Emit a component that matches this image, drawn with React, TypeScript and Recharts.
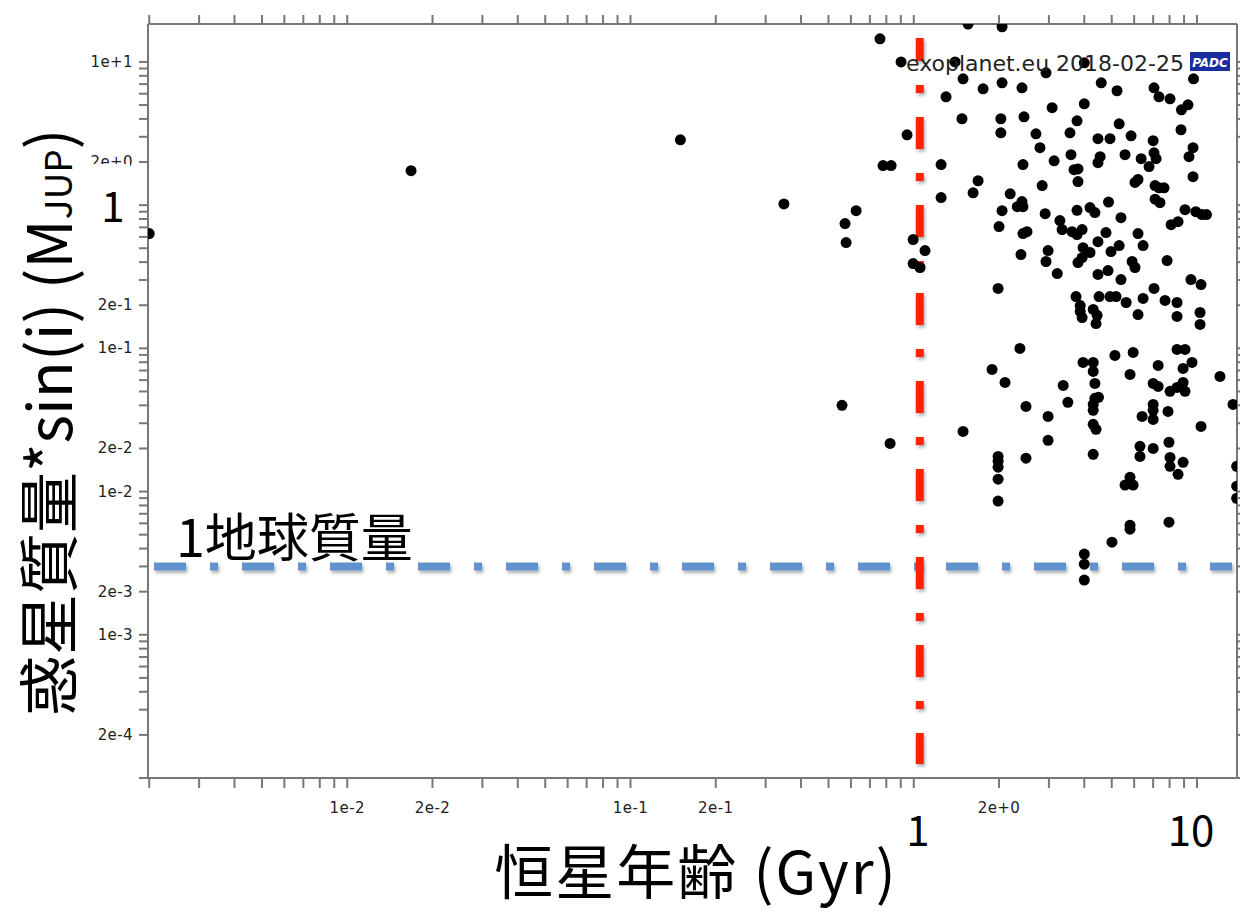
import React from 'react';
import { ScatterChart, Scatter, XAxis, YAxis, ReferenceLine } from 'recharts';

// Star age (Gyr) and planet mass*sin(i) (M_JUP)
const ages = [
  0.002, 0.0168, 0.15, 0.348, 0.558, 0.572, 0.577, 0.626, 0.76, 0.779,
  0.832, 0.825, 0.902, 0.947, 0.995, 1.096, 0.995, 1.052, 1.249, 1.249,
  1.3, 1.399, 1.493, 1.48, 1.555, 2.05, 1.757, 2.05, 2.03, 2.03,
  2.41, 2.93, 2.45, 2.7, 2.79, 3.08, 2.43, 1.687, 2.84, 1.62,
  2.19, 2.41, 2.32, 2.43, 2.05, 2.91, 2.0, 2.43, 2.51, 2.39,
  2.98, 2.93, 1.985, 2.37, 1.89, 2.1, 1.493, 2.49, 2.98, 2.98,
  2.49, 1.985, 1.985, 1.985, 1.985, 1.985, 3.37, 3.5, 3.96, 4.3,
  4.3, 4.36, 4.49, 4.36, 4.3, 4.3, 4.3, 4.4, 4.3, 5.13,
  5.95, 5.8, 6.4, 7.29, 7.0, 7.29, 7.0, 7.0, 7.0, 7.9,
  6.29, 6.29, 7.0, 7.96, 8.03, 8.03, 8.93, 8.57, 5.57, 5.8,
  5.95, 5.8, 5.8, 7.96, 5.01, 4.0, 4.0, 4.0, 8.5, 9.07,
  9.6, 8.93, 12.05, 8.03, 8.5, 8.93, 9.07, 10.33, 13.4, 13.8,
  13.8, 13.8, 3.21, 3.28, 3.34, 3.62, 3.77, 3.93, 3.77, 4.19,
  4.36, 4.87, 5.39, 7.11, 7.4, 9.07, 9.9, 10.4, 10.8, 8.1,
  8.57, 4.77, 6.19, 4.47, 6.45, 5.31, 4.97, 3.96, 4.19, 3.93,
  3.8, 7.84, 5.9, 6.04, 4.47, 4.85, 5.39, 9.52, 10.33, 7.05,
  3.74, 4.51, 4.93, 5.18, 5.62, 6.45, 7.71, 8.5, 3.87, 3.87,
  3.93, 4.3, 4.44, 4.4, 6.19, 8.5, 10.25, 10.25, 4.0, 9.72,
  4.59, 5.22, 7.05, 7.34, 8.03, 8.81, 9.29, 4.0, 3.77, 5.31,
  3.56, 4.47, 4.93, 5.85, 8.78, 7.0, 9.68, 3.59, 3.13, 4.55,
  4.47, 5.57, 6.35, 7.05, 7.17, 6.77, 9.37, 3.68, 3.8, 3.8,
  9.68, 6.04, 6.19, 7.11, 7.34, 7.65,
];
const masses = [
  0.633, 1.74, 2.86, 1.02, 0.04, 0.743, 0.548, 0.915, 14.5, 1.89,
  1.89, 0.0217, 10.0, 3.1, 0.575, 0.482, 0.391, 0.367, 1.92, 1.13,
  5.71, 10.0, 7.62, 4.01, 18.4, 17.6, 6.49, 7.15, 4.01, 3.2,
  6.6, 8.39, 4.14, 3.15, 2.52, 4.79, 1.92, 1.48, 1.37, 1.22,
  1.2, 1.06, 0.976, 0.976, 0.915, 0.872, 0.708, 0.633, 0.653, 0.452,
  0.482, 0.404, 0.262, 0.0998, 0.0713, 0.0578, 0.0263, 0.0393, 0.0335, 0.0228,
  0.0171, 0.0176, 0.0163, 0.0148, 0.0122, 0.00858, 0.0551, 0.042, 0.0797, 0.0797,
  0.069, 0.0569, 0.0455, 0.0448, 0.0406, 0.0369, 0.0295, 0.0272, 0.0182, 0.0892,
  0.0936, 0.0658, 0.0335, 0.076, 0.0569, 0.0542, 0.0406, 0.0369, 0.0319, 0.0363,
  0.0207, 0.0176, 0.02, 0.0221, 0.0173, 0.015, 0.016, 0.0132, 0.0111, 0.0126,
  0.0111, 0.00582, 0.00546, 0.00611, 0.00443, 0.00366, 0.00311, 0.00241, 0.0982, 0.0982,
  0.0797, 0.0724, 0.0637, 0.0501, 0.0534, 0.0578, 0.0501, 0.0285, 0.0406, 0.015,
  0.0109, 0.00898, 0.333, 0.78, 0.675, 0.653, 0.623, 0.675, 0.92, 0.961,
  0.887, 1.05, 0.818, 1.1, 1.04, 0.93, 0.9, 0.859, 0.859, 0.731,
  0.767, 0.643, 0.633, 0.556, 0.522, 0.522, 0.474, 0.505, 0.467, 0.43,
  0.397, 0.41, 0.404, 0.367, 0.328, 0.349, 0.302, 0.302, 0.279, 0.262,
  0.23, 0.23, 0.23, 0.23, 0.209, 0.223, 0.216, 0.209, 0.199, 0.181,
  0.164, 0.187, 0.17, 0.149, 0.172, 0.167, 0.178, 0.147, 9.86, 7.62,
  7.15, 6.29, 6.6, 5.71, 5.53, 4.63, 5.02, 5.1, 3.88, 3.7,
  3.2, 2.91, 2.91, 3.05, 3.36, 2.82, 2.52, 2.25, 2.04, 2.18,
  1.98, 2.25, 2.11, 2.32, 2.11, 1.86, 2.18, 1.77, 1.79, 1.46,
  1.58, 1.44, 1.51, 1.37, 1.32, 1.32,
];

const xTicks = [
  0.002, 0.003, 0.004, 0.005, 0.006, 0.007, 0.008, 0.009,
  0.01, 0.02, 0.03, 0.04, 0.05, 0.06, 0.07, 0.08, 0.09,
  0.1, 0.2, 0.3, 0.4, 0.5, 0.6, 0.7, 0.8, 0.9,
  1, 2, 3, 4, 5, 6, 7, 8, 9, 10,
];
const yTicks = [
  0.0001, 0.0002, 0.0003, 0.0004, 0.0005, 0.0006, 0.0007, 0.0008, 0.0009,
  0.001, 0.002, 0.003, 0.004, 0.005, 0.006, 0.007, 0.008, 0.009,
  0.01, 0.02, 0.03, 0.04, 0.05, 0.06, 0.07, 0.08, 0.09,
  0.1, 0.2, 0.3, 0.4, 0.5, 0.6, 0.7, 0.8, 0.9,
  1, 2, 3, 4, 5, 6, 7, 8, 9, 10,
];
const xTickLabels: Record<string, string> = {
  '0.01': '1e-2', '0.02': '2e-2', '0.1': '1e-1', '0.2': '2e-1', '2': '2e+0',
};
const yTickLabels: Record<string, string> = {
  '10': '1e+1', '2': '2e+0', '0.2': '2e-1', '0.1': '1e-1',
  '0.02': '2e-2', '0.01': '1e-2', '0.002': '2e-3', '0.001': '1e-3', '0.0002': '2e-4',
};

const xDomain = [0.00198, 13.84];
const yDomain = [0.0001, 18.4];

const earthMassJup = 0.003;
const earthLineAges = [0.00208, 13.3];
const sunAge = 1.05;
const sunLineMasses = [14.7, 0.000125];

const points = ages.map((a, i) => ({ age: a, mass: masses[i] }));

const AXIS = '#777';
const TICKFONT = 'DejaVu Sans, sans-serif';
const CJK = '"Noto Sans CJK JP", "Noto Sans", sans-serif';

const XTick = (props: any) => {
  const { x, payload } = props;
  const t = xTickLabels[String(payload.value)];
  if (!t) return <g />;
  return (
    <text x={x} y={813} textAnchor="middle" fontSize={15} letterSpacing={0.4}
      fontFamily={TICKFONT} fill="#222">{t}</text>
  );
};

const YTick = (props: any) => {
  const { y, payload } = props;
  const t = yTickLabels[String(payload.value)];
  if (!t) return <g />;
  return (
    <text x={133} y={y + 5} textAnchor="end" fontSize={15} letterSpacing={0.4}
      fontFamily={TICKFONT} fill="#222">{t}</text>
  );
};

const NoLabel = () => <g />;

const Dot = (p: any) => <circle cx={p.cx} cy={p.cy} r={5.5} fill="#000" />;

export default function App() {
  return (
    <div style={{ position: 'absolute', left: 0, top: 0, width: 1240, height: 912, background: '#fff' }}>
      <svg width={0} height={0} style={{ position: 'absolute' }}>
        <defs>
          <filter id="lineShadow" filterUnits="userSpaceOnUse" x={0} y={0} width={1240} height={912}>
            <feDropShadow dx={1.5} dy={2.5} stdDeviation={1.5} floodColor="#000" floodOpacity={0.3} />
          </filter>
        </defs>
      </svg>
      <ScatterChart width={1240} height={912} margin={{ top: 14, right: 0, bottom: 94, left: 88 }}>
        <XAxis xAxisId="bottom" type="number" dataKey="age" scale="log" domain={xDomain}
          allowDataOverflow ticks={xTicks} interval={0} height={40} tickSize={10}
          axisLine={{ stroke: AXIS, strokeWidth: 2 }} tickLine={{ stroke: AXIS, strokeWidth: 2 }}
          tick={<XTick />} />
        <XAxis xAxisId="top" orientation="top" type="number" dataKey="age" scale="log" domain={xDomain}
          allowDataOverflow ticks={xTicks} interval={0} height={10} tickSize={9}
          axisLine={{ stroke: AXIS, strokeWidth: 2 }} tickLine={{ stroke: AXIS, strokeWidth: 2 }}
          tick={<NoLabel />} />
        <YAxis yAxisId="left" type="number" dataKey="mass" scale="log" domain={yDomain}
          allowDataOverflow ticks={yTicks} interval={0} width={60} tickSize={9}
          axisLine={{ stroke: AXIS, strokeWidth: 2 }} tickLine={{ stroke: AXIS, strokeWidth: 2 }}
          tick={<YTick />} />
        <YAxis yAxisId="right" orientation="right" type="number" dataKey="mass" scale="log" domain={yDomain}
          allowDataOverflow ticks={yTicks} interval={0} width={3} tickSize={9}
          axisLine={{ stroke: AXIS, strokeWidth: 2 }} tickLine={{ stroke: AXIS, strokeWidth: 2 }}
          tick={<NoLabel />} />
        <Scatter data={points} xAxisId="top" yAxisId="right" shape={() => <g />} isAnimationActive={false} />
        <Scatter data={points} xAxisId="bottom" yAxisId="left" shape={Dot} isAnimationActive={false} />
        <ReferenceLine xAxisId="bottom" yAxisId="left"
          segment={[{ x: earthLineAges[0], y: earthMassJup }, { x: earthLineAges[1], y: earthMassJup }]}
          stroke="#6193cb" strokeWidth={8} strokeDasharray="32 24 8 24" filter="url(#lineShadow)" />
        <ReferenceLine xAxisId="bottom" yAxisId="left"
          segment={[{ x: sunAge, y: sunLineMasses[0] }, { x: sunAge, y: sunLineMasses[1] }]}
          stroke="#ff2200" strokeWidth={8} strokeDasharray="32 24 8 24" strokeDashoffset={9}
          filter="url(#lineShadow)" />
      </ScatterChart>
      <svg width={1240} height={912} style={{ position: 'absolute', left: 0, top: 0, pointerEvents: 'none' }}>
        <text x={906} y={71} fontSize={22} fontFamily={TICKFONT} fill="#222">exoplanet.eu 2018-02-25</text>
        <rect x={1190} y={52} width={40} height={19} fill="#1a2d9e" />
        <text x={1210} y={66.5} textAnchor="middle" fontSize={12} fontStyle="italic" fontWeight="bold"
          fontFamily={TICKFONT} fill="#fff">PADC</text>
        <rect x={90} y={164} width={40} height={79} fill="#fff" />
        <text x={113} y={222} textAnchor="middle" fontSize={42} fontFamily={CJK} fill="#000">1</text>
        <text x={176} y={557} fontSize={52} fontFamily={CJK} fill="#000">1地球質量</text>
        <text x={918} y={846} textAnchor="middle" fontSize={42} fontFamily={CJK} fill="#000">1</text>
        <text x={1191} y={846} textAnchor="middle" fontSize={42} fontFamily={CJK} fill="#000">10</text>
        <text x={696} y={894} textAnchor="middle" fontSize={59} letterSpacing={2} fontFamily={CJK} fill="#000">恒星年齢 (Gyr)</text>
        <text transform="rotate(-90)" x={-716} y={72} fontSize={61} fontFamily={CJK} fill="#000">
          惑星質量*sin(i) (M<tspan fontSize={37}>JUP</tspan>)
        </text>
      </svg>
    </div>
  );
}
